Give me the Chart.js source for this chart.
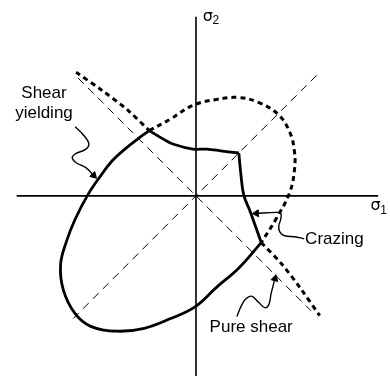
<!DOCTYPE html>
<html>
<head>
<meta charset="utf-8">
<script src="https://cdn.jsdelivr.net/npm/chart.js@4"></script>
<style>
  html, body { margin: 0; padding: 0; background: #fff; }
  canvas { display: block; }
</style>
</head>
<body>
<canvas id="myChart" width="390" height="381"></canvas>
<script>
// stress plane, arbitrary units (sigma1 across, sigma2 up)
const axisH = [[-184, 0], [187, 0]];
const axisV = [[0, 184], [0, -185]];
const diagEqual = [[-126, -126], [127, 127]];      // sigma1 = sigma2
const diagShear = [[-121, 121], [118, -118]];      // pure shear line

// solid failure envelope
const yieldArc = [[-48, 67], [-59, 59], [-73, 48], [-86, 36], [-99, 19], [-111, 1], [-124, -24],
  [-133, -47], [-139, -71], [-136, -97], [-124, -121], [-108, -134], [-81, -139], [-53, -136],
  [-26, -126], [-1, -114], [21, -94], [44, -74], [67, -48]];
const crazeSide = [[67, -48], [56, -17], [49, 1], [46, 23], [44, 44]];
const crazeTop = [[44, 44], [27, 46], [11, 48], [-3, 48], [-23, 53], [-33, 58], [-48, 67]];

// dotted crazing curve
const crazeUL = [[-123, 127], [-96, 108], [-70, 88], [-48, 67]];
const crazeArc = [[-48, 67], [-26, 79], [-3, 93], [21, 99], [44, 101], [64, 96], [84, 84],
  [96, 66], [101, 46], [101, 26], [96, 3], [82, -24], [67, -48]];
const crazeLR = [[67, -48], [88, -70], [108, -96], [127, -123]];

// label leaders
const leadYield = [[-124, 71], [-116, 63], [-110, 54], [-113, 48], [-124, 43], [-127, 39],
  [-123, 34], [-113, 29], [-105, 21]];
const leadCraze = [[111, -44], [101, -42], [91, -41], [86, -37], [85, -31], [87, -24],
  [87, -18], [82, -17], [62, -18]];
const leadShear = [[42, -124], [46, -114], [51, -106], [57, -103], [64, -109], [71, -115],
  [75, -111], [77, -101], [81, -85]];

const labelText = ['Shear', 'yielding', 'Crazing', 'Pure shear'];
const labelAt = [[-156, 101], [-156, 80], [112, -49], [14, -140]];
const labelAlign = ['center', 'center', 'left', 'left'];

function pts(a) { return a.map(p => ({ x: p[0], y: p[1] })); }

function line(a, width, dash, tension) {
  return {
    data: pts(a), showLine: true, borderColor: '#000', borderWidth: width,
    borderDash: dash || [], tension: tension || 0, pointRadius: 0, fill: false
  };
}

function leader(a) {
  const n = a.length;
  const dx = a[n - 1][0] - a[n - 2][0];
  const dy = -(a[n - 1][1] - a[n - 2][1]);
  const rot = Math.atan2(dy, dx) * 180 / Math.PI + 90;
  const ds = line(a, 1.4, [], 0.4);
  ds.pointRadius = a.map((p, i) => i === n - 1 ? 4 : 0);
  ds.pointStyle = 'triangle';
  ds.pointRotation = rot;
  ds.pointBackgroundColor = '#000';
  ds.pointBorderColor = '#000';
  ds.pointBorderWidth = 1;
  return ds;
}

const textPlugin = {
  id: 'texts',
  afterDatasetsDraw(chart) {
    const ctx = chart.ctx, xs = chart.scales.x, ys = chart.scales.y;
    ctx.save();
    ctx.fillStyle = '#000';
    ctx.textBaseline = 'alphabetic';
    ctx.font = '17px "Liberation Sans", Arial, sans-serif';
    labelText.forEach((t, i) => {
      ctx.textAlign = labelAlign[i];
      ctx.fillText(t, xs.getPixelForValue(labelAt[i][0]), ys.getPixelForValue(labelAt[i][1]));
    });
    // axis names
    ctx.textAlign = 'left';
    ctx.font = '16px "DejaVu Sans", sans-serif';
    ctx.fillText('σ', xs.getPixelForValue(7), ys.getPixelForValue(180));
    ctx.fillText('σ', xs.getPixelForValue(179), ys.getPixelForValue(-15));
    ctx.font = '12px "Liberation Sans", Arial, sans-serif';
    ctx.fillText('2', xs.getPixelForValue(17), ys.getPixelForValue(176));
    ctx.fillText('1', xs.getPixelForValue(189), ys.getPixelForValue(-19));
    ctx.restore();
  }
};

const ctx = document.getElementById('myChart').getContext('2d');
new Chart(ctx, {
  type: 'scatter',
  data: {
    datasets: [
      line(axisH, 1.6),
      line(axisV, 1.6),
      line(diagEqual, 1, [8, 6]),
      line(diagShear, 1, [8, 6]),
      line(crazeUL, 3, [5, 4], 0.3),
      line(crazeArc, 3, [5, 4], 0.4),
      line(crazeLR, 3, [5, 4], 0.3),
      line(yieldArc, 2.8, [], 0.4),
      line(crazeSide, 2.8, [], 0.4),
      line(crazeTop, 2.8, [], 0.4),
      leader(leadYield),
      leader(leadCraze),
      leader(leadShear)
    ]
  },
  options: {
    responsive: false,
    animation: false,
    devicePixelRatio: 1,
    layout: { padding: 0 },
    plugins: { legend: { display: false }, tooltip: { enabled: false } },
    scales: {
      x: { type: 'linear', min: -196, max: 194, display: false },
      y: { type: 'linear', min: -185, max: 196, display: false }
    }
  },
  plugins: [textPlugin]
});
</script>
</body>
</html>
